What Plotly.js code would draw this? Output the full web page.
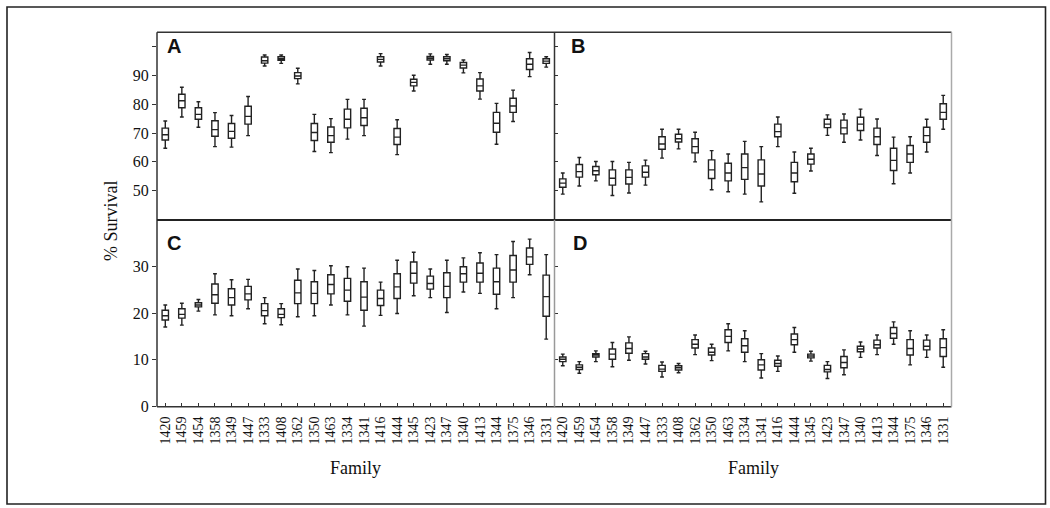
<!DOCTYPE html>
<html>
<head>
<meta charset="utf-8">
<script src="https://cdn.plot.ly/plotly-3.0.1.min.js"></script>
<style>html,body{margin:0;padding:0;background:#fff;}#chart{width:1050px;height:508px;}</style>
</head>
<body>
<div id="chart"></div>
<script>
const families = ['1420','1459','1454','1358','1349','1447','1333','1408','1362','1350','1463','1334','1341','1416','1444','1345','1423','1347','1340','1413','1344','1375','1346','1331'];

// Panel A
const A_lower = [64.7,75.6,72.0,65.3,65.1,69.1,93.3,94.2,87.1,63.6,63.2,67.9,69.1,93.3,62.5,84.6,93.9,93.9,90.9,81.8,66.1,74.0,89.6,92.9];
const A_q1    = [67.6,78.8,74.8,68.9,68.2,73.1,94.3,95.3,88.9,67.4,66.8,71.8,72.6,94.7,66.0,86.4,95.4,95.1,92.6,84.6,70.3,77.2,92.1,94.2];
const A_med   = [69.4,81.2,76.5,71.2,70.6,75.8,95.1,95.8,89.8,70.2,69.1,74.8,75.3,95.6,68.6,87.6,96.0,95.8,93.6,86.4,73.4,79.4,93.9,95.0];
const A_q3    = [71.7,83.5,78.8,74.3,73.3,79.3,96.4,96.5,91.0,73.3,72.1,78.3,78.6,96.5,71.6,88.7,96.6,96.5,94.5,88.8,77.2,82.1,95.8,95.8];
const A_upper = [74.2,85.9,80.9,77.1,76.1,82.7,97.1,97.1,92.5,76.5,75.0,81.7,81.7,97.6,74.6,90.1,97.5,97.3,95.4,91.0,80.3,84.9,98.0,96.5];

// Panel B
const B_lower = [48.8,51.6,53.4,48.3,49.2,51.9,61.3,64.5,60.0,50.3,49.6,48.8,46.1,65.3,49.1,56.8,69.2,66.8,67.6,62.2,52.4,56.1,63.4,71.3];
const B_q1    = [51.2,54.7,55.5,51.9,52.3,54.7,64.4,66.9,63.1,54.2,53.4,53.9,51.6,68.7,53.1,59.2,71.9,69.7,70.9,66.0,57.0,59.8,66.8,74.8];
const B_med   = [52.6,56.6,56.9,54.3,54.6,56.4,66.2,68.0,65.3,57.2,56.1,58.0,55.8,70.5,56.1,60.9,73.1,71.8,73.1,68.7,60.5,62.7,69.1,77.2];
const B_q3    = [54.1,59.1,58.4,57.2,57.2,58.6,68.7,69.6,68.0,60.7,59.5,62.7,60.7,73.1,59.8,62.7,74.8,74.5,75.5,71.7,64.7,65.7,72.0,80.2];
const B_upper = [56.1,61.5,60.1,60.1,59.8,60.6,71.3,71.3,70.3,63.9,62.7,67.1,65.3,75.6,63.4,64.7,76.3,76.6,78.3,74.9,68.6,68.7,74.8,83.1];

// Panel C
const C_lower = [17.0,17.4,20.4,19.6,19.4,20.9,17.7,17.5,19.2,19.4,21.7,19.6,17.2,19.5,19.9,23.7,23.3,20.1,24.5,24.2,20.9,23.3,28.2,14.4];
const C_q1    = [18.5,18.9,21.3,22.1,21.7,22.8,19.4,19.0,22.0,22.0,24.1,22.5,20.6,21.6,23.1,26.4,25.1,23.3,26.6,26.6,24.0,26.6,30.4,19.3];
const C_med   = [19.4,19.7,21.7,23.9,23.3,24.1,20.5,19.7,24.3,24.2,26.1,24.9,23.4,23.1,25.6,28.5,26.3,25.7,28.4,28.5,26.7,29.2,32.0,23.5];
const C_q3    = [20.6,20.9,22.2,26.2,25.2,25.7,22.0,20.9,27.0,26.7,28.2,27.4,26.7,24.9,28.4,30.9,27.9,28.6,29.9,30.7,29.6,32.3,33.9,28.1];
const C_upper = [21.7,22.1,22.9,28.4,27.1,27.2,23.3,22.0,29.4,29.1,30.1,29.9,29.6,26.6,31.3,33.0,29.4,31.3,31.8,32.9,32.5,35.3,35.8,32.5];

// Panel D
const D_lower = [8.7,7.1,9.6,8.5,9.9,9.1,6.3,7.2,11.1,9.8,11.9,9.6,6.1,7.5,11.6,9.7,6.0,6.8,10.5,11.1,13.3,8.9,10.5,8.4];
const D_q1    = [9.6,7.9,10.6,10.1,11.4,10.1,7.5,7.8,12.5,11.0,13.7,11.6,7.8,8.6,13.2,10.4,7.4,8.3,11.7,12.5,14.6,11.0,12.1,10.7];
const D_med   = [10.1,8.4,11.0,11.2,12.4,10.6,8.0,8.3,13.3,11.6,15.0,13.0,8.9,9.2,14.3,10.8,7.9,9.4,12.3,13.2,15.6,12.4,12.9,12.6];
const D_q3    = [10.6,8.9,11.3,12.3,13.6,11.3,8.8,8.7,14.3,12.5,16.4,14.5,10.0,9.9,15.5,11.2,8.8,10.7,12.9,14.2,16.9,14.3,14.2,14.5];
const D_upper = [11.2,9.6,11.9,13.7,14.9,11.8,9.5,9.2,15.3,13.3,17.7,16.2,11.3,10.8,16.9,11.8,9.6,12.1,13.8,15.3,18.1,16.2,15.3,16.4];

const W = 1050, H = 508;
const px = x => x / W;
const py = y => 1 - y / H;

function boxTrace(xa, ya, lf, q1, med, q3, uf) {
  return {
    type: 'box', x: families, q1: q1, median: med, q3: q3,
    lowerfence: lf, upperfence: uf, xaxis: xa, yaxis: ya,
    boxpoints: false, fillcolor: 'rgba(255,255,255,0)',
    line: {color: '#222', width: 1.4}, whiskerwidth: 0.6,
    hoverinfo: 'skip', showlegend: false
  };
}

const data = [
  boxTrace('x', 'y', A_lower, A_q1, A_med, A_q3, A_upper),
  boxTrace('x2', 'y2', B_lower, B_q1, B_med, B_q3, B_upper),
  boxTrace('x3', 'y3', C_lower, C_q1, C_med, C_q3, C_upper),
  boxTrace('x4', 'y4', D_lower, D_q1, D_med, D_q3, D_upper)
];

const xl = 157, xm = 554.5, xr = 951.5, yt = 32.3, ym = 220, yb = 406.7;
const serif = 'Liberation Serif, Times New Roman, serif';

const baseX = {
  type: 'category', range: [-0.5, 23.5], showgrid: false, zeroline: false,
  showline: false, fixedrange: true, tickmode: 'array', tickvals: families, ticktext: families
};
const topX = Object.assign({}, baseX, {showticklabels: false, ticks: ''});
const botX = Object.assign({}, baseX, {
  showticklabels: true, tickangle: -90, ticks: 'inside', ticklen: 4,
  tickcolor: '#333', tickwidth: 1, ticklabelstandoff: 6,
  tickfont: {family: serif, size: 14, color: '#111'}
});

const topTicks = [50, 60, 70, 80, 90, 100];
const topText = ['50', '60', '70', '80', '90', ''];
const botTicks = [0, 10, 20, 30];
const botText = ['0', '10', '20', '30'];

const baseY = {showgrid: false, zeroline: false, showline: false, fixedrange: true,
  tickcolor: '#333', tickwidth: 1, tickmode: 'array',
  tickfont: {family: serif, size: 16, color: '#111'}};

const layout = {
  width: W, height: H, autosize: false,
  margin: {l: 0, r: 0, t: 0, b: 0},
  paper_bgcolor: '#fff', plot_bgcolor: 'rgba(0,0,0,0)',
  showlegend: false, boxgap: 0.45,
  xaxis: Object.assign({}, topX, {domain: [px(xl), px(xm)], anchor: 'y'}),
  xaxis2: Object.assign({}, topX, {domain: [px(xm), px(xr)], anchor: 'y2'}),
  xaxis3: Object.assign({}, botX, {domain: [px(xl), px(xm)], anchor: 'y3'}),
  xaxis4: Object.assign({}, botX, {domain: [px(xm), px(xr)], anchor: 'y4'}),
  yaxis: Object.assign({}, baseY, {domain: [py(ym), py(yt)], anchor: 'x', range: [39.8, 105.0],
    tickvals: topTicks, ticktext: topText, ticks: 'outside', ticklen: 4}),
  yaxis2: Object.assign({}, baseY, {domain: [py(ym), py(yt)], anchor: 'x2', range: [39.8, 105.0],
    tickvals: topTicks, showticklabels: false, ticks: 'inside', ticklen: 3}),
  yaxis3: Object.assign({}, baseY, {domain: [py(yb), py(ym)], anchor: 'x3', range: [-0.05, 39.9],
    tickvals: botTicks, ticktext: botText, ticks: 'outside', ticklen: 4}),
  yaxis4: Object.assign({}, baseY, {domain: [py(yb), py(ym)], anchor: 'x4', range: [-0.05, 39.9],
    tickvals: botTicks, showticklabels: false, ticks: 'inside', ticklen: 3}),
  shapes: [
    {type: 'rect', xref: 'paper', yref: 'paper', x0: px(7), x1: px(1045.5), y0: py(7), y1: py(504), line: {color: '#222', width: 1.6}},
    {type: 'line', xref: 'paper', yref: 'paper', x0: px(xl), x1: px(xr), y0: py(yt), y1: py(yt), line: {color: '#333', width: 1.5}},
    {type: 'line', xref: 'paper', yref: 'paper', x0: px(xl), x1: px(xl), y0: py(yt), y1: py(yb), line: {color: '#333', width: 1.5}},
    {type: 'line', xref: 'paper', yref: 'paper', x0: px(xl), x1: px(xr), y0: py(yb), y1: py(yb), line: {color: '#333', width: 1.5}},
    {type: 'line', xref: 'paper', yref: 'paper', x0: px(xl), x1: px(xr), y0: py(ym), y1: py(ym), line: {color: '#222', width: 2}},
    {type: 'line', xref: 'paper', yref: 'paper', x0: px(xm), x1: px(xm), y0: py(yt), y1: py(ym), line: {color: '#333', width: 1.5}},
    {type: 'line', xref: 'paper', yref: 'paper', x0: px(xm), x1: px(xm), y0: py(ym), y1: py(yb), line: {color: '#999', width: 1.5}},
    {type: 'line', xref: 'paper', yref: 'paper', x0: px(xr), x1: px(xr), y0: py(yt), y1: py(yb), line: {color: '#aaa', width: 1.5}}
  ],
  annotations: [
    {text: '% Survival', xref: 'paper', yref: 'paper', x: px(111), y: py(221), showarrow: false, textangle: -90,
      font: {family: serif, size: 18, color: '#111'}, xanchor: 'center', yanchor: 'middle'},
    {text: 'Family', xref: 'paper', yref: 'paper', x: px((xl + xm) / 2), y: py(468), showarrow: false,
      font: {family: serif, size: 18, color: '#111'}, xanchor: 'center', yanchor: 'middle'},
    {text: 'Family', xref: 'paper', yref: 'paper', x: px((xm + xr) / 2), y: py(468), showarrow: false,
      font: {family: serif, size: 18, color: '#111'}, xanchor: 'center', yanchor: 'middle'},
    {text: '<b>A</b>', xref: 'paper', yref: 'paper', x: px(174), y: py(46), showarrow: false,
      font: {family: 'Liberation Sans, Arial, sans-serif', size: 20, color: '#111'}, xanchor: 'center', yanchor: 'middle'},
    {text: '<b>B</b>', xref: 'paper', yref: 'paper', x: px(578), y: py(46), showarrow: false,
      font: {family: 'Liberation Sans, Arial, sans-serif', size: 20, color: '#111'}, xanchor: 'center', yanchor: 'middle'},
    {text: '<b>C</b>', xref: 'paper', yref: 'paper', x: px(174), y: py(243), showarrow: false,
      font: {family: 'Liberation Sans, Arial, sans-serif', size: 20, color: '#111'}, xanchor: 'center', yanchor: 'middle'},
    {text: '<b>D</b>', xref: 'paper', yref: 'paper', x: px(580), y: py(243), showarrow: false,
      font: {family: 'Liberation Sans, Arial, sans-serif', size: 20, color: '#111'}, xanchor: 'center', yanchor: 'middle'}
  ]
};

Plotly.newPlot('chart', data, layout, {staticPlot: true, displayModeBar: false});
</script>
</body>
</html>
